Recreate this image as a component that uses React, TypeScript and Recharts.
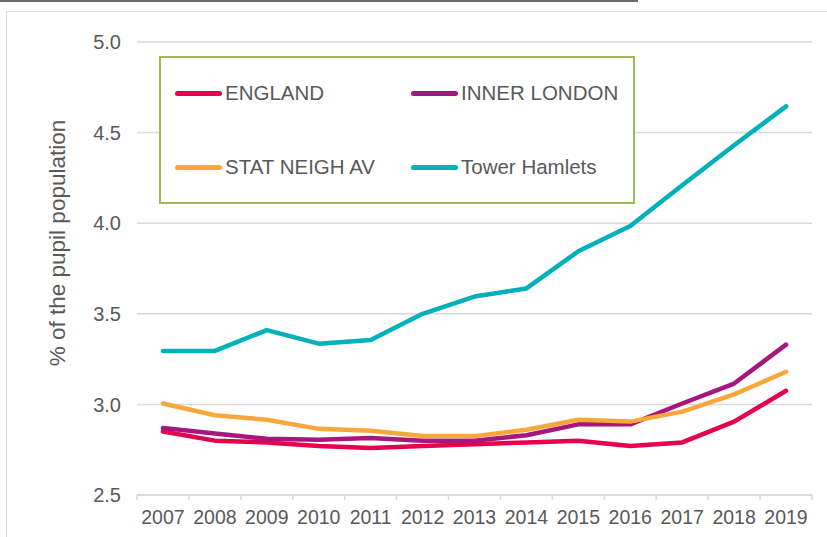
import React from 'react';
import { LineChart, Line, XAxis, YAxis, CartesianGrid, Legend } from 'recharts';

const years = ['2007', '2008', '2009', '2010', '2011', '2012', '2013', '2014', '2015', '2016', '2017', '2018', '2019'];
const england = [2.85, 2.8, 2.79, 2.77, 2.76, 2.77, 2.78, 2.79, 2.8, 2.77, 2.79, 2.905, 3.075];
const innerLondon = [2.87, 2.84, 2.81, 2.805, 2.815, 2.8, 2.8, 2.83, 2.89, 2.89, 3.005, 3.115, 3.33];
const statNeigh = [3.005, 2.94, 2.915, 2.865, 2.855, 2.825, 2.825, 2.86, 2.915, 2.905, 2.96, 3.055, 3.18];
const towerHamlets = [3.295, 3.295, 3.41, 3.335, 3.355, 3.5, 3.595, 3.64, 3.845, 3.985, 4.21, 4.43, 4.645];

const seriesNames = ['ENGLAND', 'INNER LONDON', 'STAT NEIGH AV', 'Tower Hamlets'];
const seriesColors = ['#E6004D', '#A5177E', '#F8A83B', '#00B0BA'];
const seriesValues = [england, innerLondon, statNeigh, towerHamlets];
const yTicks = [2.5, 3.0, 3.5, 4.0, 4.5, 5.0];
const yLabel = '% of the pupil population';

const data = years.map((y, i) => {
  const row: Record<string, string | number> = { year: y };
  seriesValues.forEach((vals, s) => {
    row['s' + s] = vals[i];
  });
  return row;
});

const FONT = '"Liberation Sans", Arial, Helvetica, sans-serif';
const TEXT = '#595959';
const GRID = '#d9d9d9';

const XTick = (props: any) => {
  const { x, y, payload, index } = props;
  const half = payload && typeof payload.offset === 'number' ? payload.offset : 0;
  const last = index === years.length - 1;
  return (
    <g>
      <line x1={x - half} x2={x - half} y1={y} y2={y + 5} stroke={GRID} strokeWidth={1.5} />
      {last && <line x1={x + half} x2={x + half} y1={y} y2={y + 5} stroke={GRID} strokeWidth={1.5} />}
      <text x={x} y={y + 15} dy="0.71em" textAnchor="middle" fill={TEXT} fontSize={19.5} fontFamily={FONT}>
        {payload.value}
      </text>
    </g>
  );
};

const YLabel = () => (
  <text
    x={57}
    y={243}
    transform="rotate(-90, 57, 243)"
    textAnchor="middle"
    dominantBaseline="central"
    fill={TEXT}
    fontSize={22.5}
    fontFamily={FONT}
  >
    {yLabel}
  </text>
);

const LegendBox = () => (
  <div
    style={{
      width: 476,
      height: 148,
      border: '2px solid #9BBB59',
      boxSizing: 'border-box',
      position: 'relative',
      background: '#fff',
    }}
  >
    {seriesNames.map((n, i) => {
      const col = i % 2;
      const row = Math.floor(i / 2);
      return (
        <div
          key={n}
          style={{
            position: 'absolute',
            left: col ? 250 : 14,
            top: row ? 109 : 35,
            transform: 'translateY(-50%)',
            display: 'flex',
            alignItems: 'center',
            whiteSpace: 'nowrap',
          }}
        >
          <span
            style={{
              display: 'inline-block',
              width: 47,
              height: 5,
              borderRadius: 3,
              background: seriesColors[i],
            }}
          />
          <span style={{ marginLeft: 3, fontSize: 20.5, color: TEXT, fontFamily: FONT, lineHeight: '24px' }}>{n}</span>
        </div>
      );
    })}
  </div>
);

export default function App() {
  return (
    <div style={{ position: 'absolute', left: 0, top: 0, width: 827, height: 537, background: '#fff', overflow: 'hidden' }}>
      <div style={{ position: 'absolute', left: 0, top: 0, width: 638, height: 1.5, background: '#6b6b6b' }} />
      <div
        style={{
          position: 'absolute',
          left: 6,
          top: 11,
          width: 900,
          height: 600,
          border: '1.5px solid #dcdcdc',
        }}
      />
      <div style={{ position: 'absolute', left: 0, top: 0 }}>
        <LineChart width={827} height={537} data={data} margin={{ top: 42, right: 15, bottom: 0, left: 0 }}>
          <CartesianGrid horizontal vertical={false} stroke={GRID} strokeWidth={1.5} />
          <XAxis
            dataKey="year"
            scale="band"
            height={42}
            axisLine={{ stroke: GRID, strokeWidth: 1.5 }}
            tickLine={false}
            tickSize={0}
            tickMargin={0}
            interval={0}
            tick={<XTick />}
          />
          <YAxis
            width={137}
            domain={[2.5, 5]}
            ticks={yTicks}
            tickFormatter={(v: number) => v.toFixed(1)}
            axisLine={false}
            tickLine={false}
            tickSize={6}
            tickMargin={10}
            tick={{ fill: TEXT, fontSize: 20, fontFamily: FONT }}
            label={<YLabel />}
          />
          <Legend
            layout="vertical"
            align="center"
            verticalAlign="middle"
            wrapperStyle={{ position: 'absolute', left: 159, top: 56, width: 476, height: 148 }}
            content={() => <LegendBox />}
          />
          {seriesNames.map((n, i) => (
            <Line
              key={n}
              type="linear"
              dataKey={'s' + i}
              name={n}
              stroke={seriesColors[i]}
              strokeWidth={4.5}
              strokeLinecap="round"
              strokeLinejoin="round"
              dot={false}
              activeDot={false}
              isAnimationActive={false}
            />
          ))}
        </LineChart>
      </div>
    </div>
  );
}
